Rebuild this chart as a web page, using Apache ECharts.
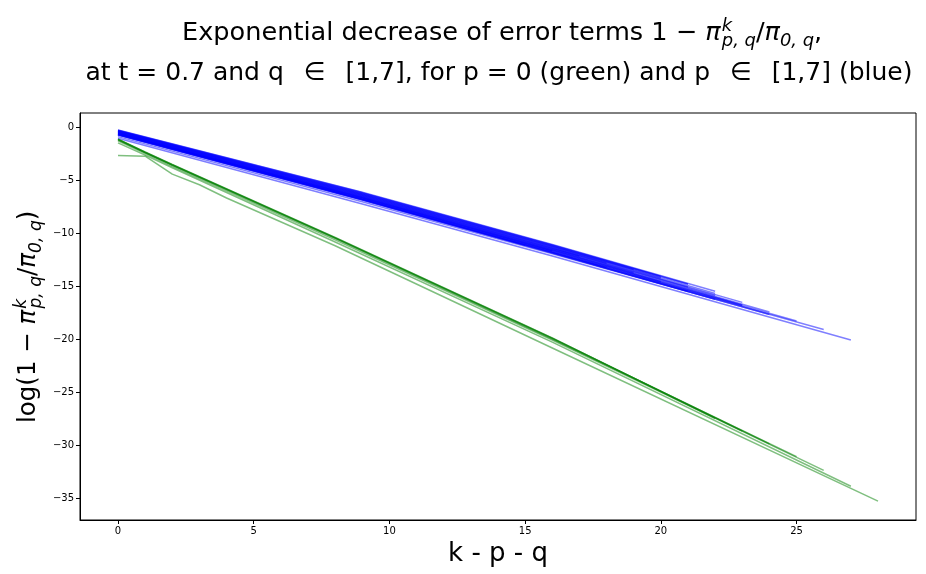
<!DOCTYPE html>
<html>
<head>
<meta charset="utf-8">
<script src="https://cdn.jsdelivr.net/npm/echarts@6/dist/echarts.min.js"></script>
<style>
  html, body { margin: 0; padding: 0; background: #fff; }
  #chart { width: 926px; height: 574px; }
</style>
</head>
<body>
<div id="chart"></div>
<script>
// tick labels
const xTicks = [0, 5, 10, 15, 20, 25]
const yTicks = [0, -5, -10, -15, -20, -25, -30, -35]

// p = 0 (green), one line per q, points as [k-p-q, value]
const greenLines = [
  [[0, -2.7], [1, -2.75], [2, -4.45], [3, -5.45], [4, -6.7], [8, -11.2], [16, -20.85], [28, -35.3]],
  [[0, -1.5], [1, -2.65], [2, -3.85], [8, -10.85], [16, -20.3], [27, -33.9]],
  [[0, -1.3], [1, -2.5], [2, -3.7], [8, -10.65], [16, -20.1], [26, -32.4]],
  [[0, -1.2], [1, -2.42], [2, -3.6], [8, -10.5], [16, -20.0], [25, -31.1]],
  [[0, -1.18], [1, -2.4], [2, -3.58], [8, -10.48], [16, -19.95], [24, -29.9]],
  [[0, -1.16], [1, -2.38], [2, -3.56], [8, -10.45], [16, -19.92], [23, -28.7]],
  [[0, -1.14], [1, -2.36], [2, -3.54], [8, -10.42], [16, -19.9], [22, -27.5]]
]

// p in [1,7] (blue): two lower lines, then the dense band
const blueLines = [
  [[0, -1.07], [9, -7.26], [16, -12.18], [27, -20.1]],
  [[0, -0.91], [9, -7.05], [16, -11.97], [26, -19.1]],
  [[0, -0.28], [9, -6.16], [16, -11.08], [22, -15.5]],
  [[0, -0.30], [9, -6.19], [16, -11.12], [21, -14.8]],
  [[0, -0.33], [9, -6.23], [16, -11.16], [20, -14.1]],
  [[0, -0.35], [9, -6.27], [16, -11.2], [21, -14.85]],
  [[0, -0.37], [9, -6.31], [16, -11.24], [19, -13.45]],
  [[0, -0.40], [9, -6.34], [16, -11.28], [22, -15.7]],
  [[0, -0.42], [9, -6.38], [16, -11.33], [20, -14.25]],
  [[0, -0.45], [9, -6.41], [16, -11.37], [18, -12.85]],
  [[0, -0.47], [9, -6.45], [16, -11.41], [23, -16.55]],
  [[0, -0.50], [9, -6.49], [16, -11.45], [21, -15.1]],
  [[0, -0.52], [9, -6.53], [16, -11.49], [17, -12.2]],
  [[0, -0.54], [9, -6.56], [16, -11.53], [22, -15.9]],
  [[0, -0.56], [9, -6.60], [16, -11.57], [19, -13.75]],
  [[0, -0.59], [9, -6.63], [16, -11.61], [24, -17.45]],
  [[0, -0.61], [9, -6.67], [16, -11.65], [20, -14.6]],
  [[0, -0.63], [9, -6.69], [16, -11.67], [23, -16.8]],
  [[0, -0.64], [9, -6.70], [16, -11.69]],
  [[0, -0.66], [9, -6.74], [16, -11.74], [23, -16.85]],
  [[0, -0.68], [9, -6.78], [16, -11.78], [18, -13.25]],
  [[0, -0.70], [9, -6.82], [16, -11.82], [25, -18.3]],
  [[0, -0.72], [9, -6.85], [16, -11.86], [21, -15.5]],
  [[0, -0.73], [9, -6.86], [16, -11.87], [22, -16.25]],
  [[0, -0.74], [9, -6.87], [16, -11.88], [24, -17.7]],
  [[0, -0.75], [9, -6.89], [15, -11.17]]
]

const font = 'DejaVu Sans'
// k is given an almost-zero width so that the subscript starts under it
const mathRich = (size) => ({
  m: { fontFamily: font, fontSize: size, fontWeight: 'normal', color: '#000' },
  e: { fontFamily: font, fontSize: size, fontWeight: 'normal', color: '#000', padding: [0, 12] },
  i: { fontFamily: font, fontSize: size, fontWeight: 'normal', fontStyle: 'italic', color: '#000' },
  sup: { fontFamily: font, fontSize: size * 0.7, fontWeight: 'normal', fontStyle: 'italic', color: '#000',
    verticalAlign: 'top', align: 'left', width: 0.1, padding: [0, 0, size * 0.6, 1] },
  sub: { fontFamily: font, fontSize: size * 0.7, fontWeight: 'normal', fontStyle: 'italic', color: '#000',
    verticalAlign: 'bottom', padding: [size * 0.5, 0, 0, 0] }
})

const series = []
blueLines.forEach(line => {
  series.push({
    type: 'line',
    data: line,
    showSymbol: false,
    silent: true,
    lineStyle: { color: '#0000ff', width: 1.5, opacity: 0.5 }
  })
})
greenLines.forEach(line => {
  series.push({
    type: 'line',
    data: line,
    showSymbol: false,
    silent: true,
    lineStyle: { color: '#008000', width: 1.5, opacity: 0.5 }
  })
})

const chart = echarts.init(document.getElementById('chart'))
chart.setOption({
  animation: false,
  backgroundColor: '#fff',
  title: [
    {
      text: '{m|Exponential decrease of error terms 1 − }{i|π}{sup|k}{sub|p, q}{m|/}{i|π}{sub|0, q}{m|,}',
      left: 177,
      top: 12,
      textAlign: 'left',
      textStyle: { rich: mathRich(25.6) }
    },
    {
      text: '{m|at t = 0.7 and q }{e|∈}{m| [1,7], for p = 0 (green) and p }{e|∈}{m| [1,7] (blue)}',
      left: 494,
      top: 56,
      textAlign: 'center',
      textStyle: { rich: mathRich(25) }
    }
  ],
  graphic: [
    {
      type: 'text',
      x: 29,
      y: 423,
      rotation: Math.PI / 2,
      silent: true,
      style: {
        text: '{m|log(1 − }{i|π}{sup|k}{sub|p, q}{m|/}{i|π}{sub|0, q}{m|)}',
        rich: mathRich(24.5),
        align: 'left',
        verticalAlign: 'middle'
      }
    }
  ],
  grid: {
    left: 80, right: 10, top: 113, bottom: 54,
    outerBoundsMode: 'none',
    containLabel: false,
    show: true, borderColor: '#000', borderWidth: 1
  },
  xAxis: {
    type: 'value',
    min: -1.4, max: 29.4,
    name: 'k - p - q',
    nameLocation: 'middle',
    nameGap: 20,
    nameTextStyle: { fontFamily: font, fontSize: 26, color: '#000', verticalAlign: 'top' },
    splitLine: { show: false },
    axisLine: { onZero: false, lineStyle: { color: '#000' } },
    axisTick: { customValues: xTicks, length: 4, lineStyle: { color: '#000' } },
    axisLabel: { customValues: xTicks, fontFamily: font, fontSize: 10, color: '#000', margin: 6 }
  },
  yAxis: {
    type: 'value',
    min: -37.08, max: 1.32,
    splitLine: { show: false },
    axisLine: { show: true, onZero: false, lineStyle: { color: '#000' } },
    axisTick: { show: true, customValues: yTicks, length: 4, lineStyle: { color: '#000' } },
    axisLabel: { customValues: yTicks, fontFamily: font, fontSize: 10, color: '#000', margin: 6,
      formatter: v => String(v).replace('-', '−') }
  },
  series: series
})
</script>
</body>
</html>
